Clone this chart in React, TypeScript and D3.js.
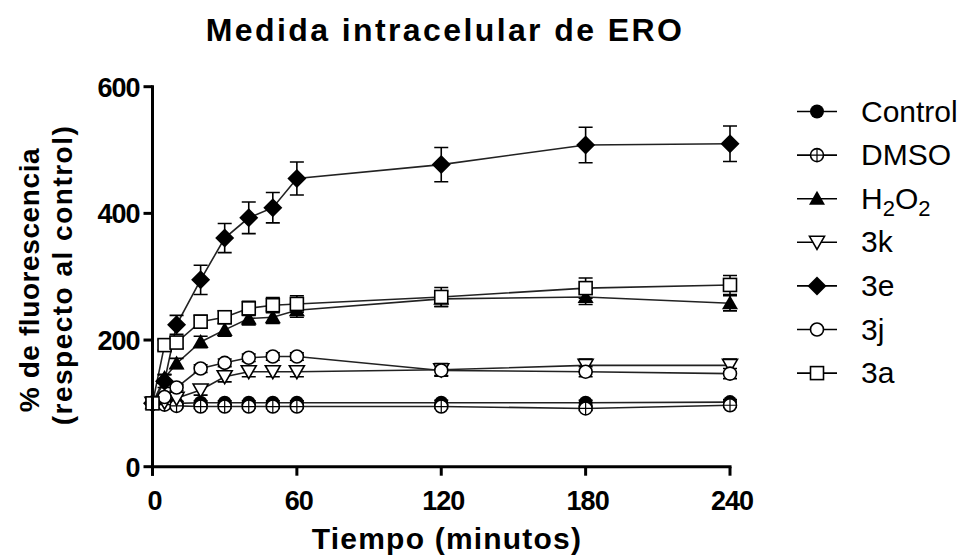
import React from "react";
import * as d3 from "d3";

const times = [0, 5, 10, 20, 30, 40, 50, 60, 120, 180, 240];
const seriesNames = ["Control", "DMSO", "H2O2", "3k", "3e", "3j", "3a"];
const controlVals = [100, 101, 100, 101, 101, 101, 101, 101, 101, 101, 102];
const dmsoVals = [100, 98, 96, 95, 95, 95, 95, 95, 95, 92, 97];
const h2o2Vals = [100, 140, 163, 197, 216, 234, 236, 247, 265, 268, 258];
const k3Vals = [100, 102, 108, 121, 142, 150, 150, 150, 153, 160, 160];
const e3Vals = [100, 135, 224, 295, 361, 393, 409, 455, 477, 508, 510];
const j3Vals = [100, 110, 125, 155, 164, 172, 174, 174, 152, 150, 147];
const a3Vals = [100, 192, 196, 229, 236, 250, 255, 257, 268, 282, 287];
const controlErr = [0, 3, 3, 3, 3, 3, 3, 3, 4, 4, 4];
const dmsoErr = [0, 3, 3, 3, 3, 3, 3, 3, 3, 3, 3];
const h2o2Err = [0, 6, 8, 9, 10, 10, 10, 11, 12, 12, 12];
const k3Err = [0, 4, 5, 8, 8, 8, 8, 8, 10, 10, 10];
const e3Err = [0, 10, 15, 23, 23, 25, 24, 26, 27, 28, 28];
const j3Err = [0, 4, 5, 6, 6, 6, 6, 6, 8, 8, 8];
const a3Err = [0, 8, 9, 10, 10, 11, 12, 13, 15, 16, 15];
const xTicks = [0, 60, 120, 180, 240];
const yTicks = [0, 200, 400, 600];

const seriesVals = [controlVals, dmsoVals, h2o2Vals, k3Vals, e3Vals, j3Vals, a3Vals];
const seriesErrs = [controlErr, dmsoErr, h2o2Err, k3Err, e3Err, j3Err, a3Err];
const markerTypes = ["circleFilled", "circleCross", "triUp", "triDown", "diamond", "circleOpen", "square"];

function Marker({ type, x, y }: { type: string; x: number; y: number }) {
  const sw = 1.6;
  switch (type) {
    case "circleFilled":
      return <circle cx={x} cy={y} r={7} fill="#000" />;
    case "circleOpen":
      return <circle cx={x} cy={y} r={6.5} fill="#fff" stroke="#000" strokeWidth={sw} />;
    case "circleCross":
      return (
        <g>
          <circle cx={x} cy={y} r={6.5} fill="#fff" stroke="#000" strokeWidth={sw} />
          <path d={`M${x - 6.5},${y}H${x + 6.5}M${x},${y - 6.5}V${y + 6.5}`} stroke="#000" strokeWidth={1.2} />
        </g>
      );
    case "triUp":
      return <path d={`M${x},${y - 8}L${x + 8},${y + 6}L${x - 8},${y + 6}Z`} fill="#000" />;
    case "triDown":
      return <path d={`M${x - 7.5},${y - 6}L${x + 7.5},${y - 6}L${x},${y + 7}Z`} fill="#fff" stroke="#000" strokeWidth={sw} />;
    case "diamond":
      return <path d={`M${x},${y - 9.5}L${x + 9.5},${y}L${x},${y + 9.5}L${x - 9.5},${y}Z`} fill="#000" />;
    case "square":
      return <rect x={x - 6.5} y={y - 6.5} width={13} height={13} fill="#fff" stroke="#000" strokeWidth={sw} />;
  }
  return null;
}

export default function App() {
  const W = 963, H = 556;
  const x = d3.scaleLinear().domain([0, 240]).range([152.5, 730]);
  const y = d3.scaleLinear().domain([0, 600]).range([466.7, 86.7]);
  const line = d3.line<[number, number]>().x((d) => x(d[0])).y((d) => y(d[1]));
  const font = "'Liberation Sans', Arial, sans-serif";
  const legendY = (i: number) => 111.5 + i * 43.6;

  return (
    <svg width={W} height={H} style={{ position: "absolute", left: 0, top: 0, background: "#fff" }} fontFamily={font}>
      <rect width={W} height={H} fill="#fff" />
      <text x={445} y={41} textAnchor="middle" fontSize={32} fontWeight="bold" letterSpacing={2.4}>Medida intracelular de ERO</text>

      {/* y label */}
      <text transform="translate(39,280) rotate(-90)" textAnchor="middle" fontSize={28} fontWeight="bold" letterSpacing={0.6}>% de fluorescencia</text>
      <text transform="translate(72,275) rotate(-90)" textAnchor="middle" fontSize={28} fontWeight="bold" letterSpacing={1.5}>(respecto al control)</text>
      <text x={447} y={549} textAnchor="middle" fontSize={30} fontWeight="bold" letterSpacing={1.2}>Tiempo (minutos)</text>

      {/* series lines */}
      {seriesVals.map((vals, si) => (
        <path key={"l" + si} d={line(times.map((t, i) => [t, vals[i]]) as [number, number][]) || ""} fill="none" stroke="#222" strokeWidth={1.6} />
      ))}
      {/* error bars */}
      {seriesVals.map((vals, si) =>
        times.map((t, i) => {
          const e = seriesErrs[si][i];
          if (!e) return null;
          const cx = x(t), y1 = y(vals[i] + e), y2 = y(vals[i] - e);
          return (
            <path key={"e" + si + "-" + i} d={`M${cx},${y1}V${y2}M${cx - 7},${y1}H${cx + 7}M${cx - 7},${y2}H${cx + 7}`} stroke="#000" strokeWidth={1.6} fill="none" />
          );
        })
      )}
      {/* markers */}
      {seriesVals.map((vals, si) =>
        times.map((t, i) => <Marker key={"m" + si + "-" + i} type={markerTypes[si]} x={x(t)} y={y(vals[i])} />)
      )}

      {/* axes */}
      <line x1={x(0)} x2={x(0)} y1={y(600) - 1.5} y2={y(0) + 9} stroke="#000" strokeWidth={3} />
      <line x1={x(0) - 1.5} x2={x(240) + 1.5} y1={y(0)} y2={y(0)} stroke="#000" strokeWidth={3} />
      {yTicks.map((t) => (
        <g key={"yt" + t}>
          <line x1={x(0) - 9} x2={x(0)} y1={y(t)} y2={y(t)} stroke="#000" strokeWidth={3} />
          <text x={x(0) - 13} y={y(t) + 10} textAnchor="end" fontSize={27} fontWeight="bold" letterSpacing={-1}>{t}</text>
        </g>
      ))}
      {xTicks.map((t) => (
        <g key={"xt" + t}>
          <line x1={x(t)} x2={x(t)} y1={y(0)} y2={y(0) + 9} stroke="#000" strokeWidth={3} />
          <text x={x(t) + 2} y={y(0) + 43} textAnchor="middle" fontSize={27} fontWeight="bold" letterSpacing={-1}>{t}</text>
        </g>
      ))}

      {/* legend */}
      {seriesNames.map((name, i) => {
        const ly = legendY(i);
        return (
          <g key={"lg" + i}>
            <line x1={797} x2={837} y1={ly} y2={ly} stroke="#000" strokeWidth={1.6} />
            <Marker type={markerTypes[i]} x={817} y={ly} />
            {name === "H2O2" ? (
              <text x={861} y={ly + 10} fontSize={30}>
                H<tspan fontSize={22} dy={7}>2</tspan><tspan dy={-7}>O</tspan><tspan fontSize={22} dy={7}>2</tspan>
              </text>
            ) : (
              <text x={861} y={ly + 10} fontSize={30}>{name}</text>
            )}
          </g>
        );
      })}
    </svg>
  );
}
